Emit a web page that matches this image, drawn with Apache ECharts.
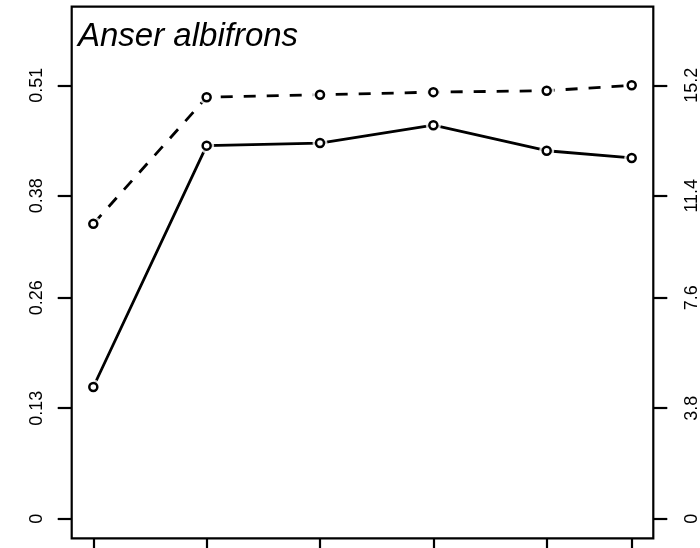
<!DOCTYPE html>
<html>
<head>
<meta charset="utf-8">
<script src="https://cdn.jsdelivr.net/npm/echarts@6/dist/echarts.min.js"></script>
<style>html,body{margin:0;padding:0;background:#fff}#c{width:700px;height:548px}</style>
</head>
<body>
<div id="c"></div>
<script>
// ---- data ----
const titleText = 'Anser albifrons';
const xValues = [1, 2, 3, 4, 5, 5.75];
const solidValues = [0.155, 0.439, 0.442, 0.463, 0.433, 0.4245];   // left axis
const dashedValues = [10.34, 14.78, 14.87, 14.96, 15.01, 15.2];    // right axis
const leftTicks = [0, 0.13, 0.26, 0.38, 0.51];
const leftTickLabels = ['0', '0.13', '0.26', '0.38', '0.51'];
const rightTickLabels = ['0', '3.8', '7.6', '11.4', '15.2'];

// ---- scales ----
const ratio = 15.2 / 0.51;
const yMinL = -0.02306, yMaxL = 0.60249;
const rightTicks = leftTicks.map(v => v * ratio);
const fontFam = '"Liberation Sans", Arial, sans-serif';

function lookup(vals, labels) {
  return function (v) {
    let best = 0, bd = Infinity;
    vals.forEach((t, i) => { const d = Math.abs(t - v); if (d < bd) { bd = d; best = i; } });
    return labels[best];
  };
}

const solidData = xValues.map((x, i) => [x, solidValues[i]]);
const dashedData = xValues.map((x, i) => [x, dashedValues[i]]);

const chart = echarts.init(document.getElementById('c'), null, { renderer: 'canvas' });
chart.setOption({
  animation: false,
  backgroundColor: '#fff',
  title: {
    text: titleText, left: 78, top: 20, padding: 0,
    textStyle: { fontFamily: fontFam, fontSize: 33, fontStyle: 'italic', fontWeight: 'normal', color: '#000' }
  },
  grid: {
    left: 71.7, top: 6.7, width: 581.6, height: 531.6,
    outerBoundsMode: 'none', containLabel: false,
    show: true, borderColor: '#000', borderWidth: 2.2, backgroundColor: 'transparent'
  },
  xAxis: {
    type: 'value', min: 0.8094, max: 5.9405,
    axisLine: { show: false, onZero: false },
    splitLine: { show: false },
    axisTick: { show: true, length: 14, inside: false, customValues: xValues, lineStyle: { color: '#000', width: 2.2 } },
    axisLabel: { show: false }
  },
  yAxis: [
    {
      type: 'value', min: yMinL, max: yMaxL, position: 'left',
      axisLine: { show: false, onZero: false }, splitLine: { show: false },
      axisTick: { show: true, length: 14, customValues: leftTicks, lineStyle: { color: '#000', width: 2.2 } },
      axisLabel: {
        show: true, customValues: leftTicks, rotate: 90, margin: 26,
        formatter: lookup(leftTicks, leftTickLabels),
        fontFamily: fontFam, fontSize: 18, color: '#000'
      }
    },
    {
      type: 'value', min: yMinL * ratio, max: yMaxL * ratio, position: 'right',
      axisLine: { show: false, onZero: false }, splitLine: { show: false },
      axisTick: { show: true, length: 14, customValues: rightTicks, lineStyle: { color: '#000', width: 2.2 } },
      axisLabel: {
        show: true, customValues: rightTicks, rotate: 90, margin: 30,
        formatter: lookup(rightTicks, rightTickLabels),
        fontFamily: fontFam, fontSize: 18, color: '#000'
      }
    }
  ],
  series: [
    { type: 'line', yAxisIndex: 0, data: solidData, showSymbol: false, symbol: 'none',
      lineStyle: { color: '#000', width: 2.8 }, z: 2 },
    { type: 'line', yAxisIndex: 1, data: dashedData, showSymbol: false, symbol: 'none',
      lineStyle: { color: '#000', width: 2.8, type: [12, 11] }, z: 2 },
    { type: 'scatter', yAxisIndex: 0, data: solidData, symbol: 'circle', symbolSize: 15,
      itemStyle: { color: '#fff', borderWidth: 0 }, z: 3 },
    { type: 'scatter', yAxisIndex: 1, data: dashedData, symbol: 'circle', symbolSize: 15,
      itemStyle: { color: '#fff', borderWidth: 0 }, z: 3 },
    { type: 'scatter', yAxisIndex: 0, data: solidData, symbol: 'circle', symbolSize: 8,
      itemStyle: { color: '#fff', borderColor: '#000', borderWidth: 2.5, opacity: 1 }, z: 4 },
    { type: 'scatter', yAxisIndex: 1, data: dashedData, symbol: 'circle', symbolSize: 8,
      itemStyle: { color: '#fff', borderColor: '#000', borderWidth: 2.5, opacity: 1 }, z: 4 }
  ]
});
</script>
</body>
</html>
